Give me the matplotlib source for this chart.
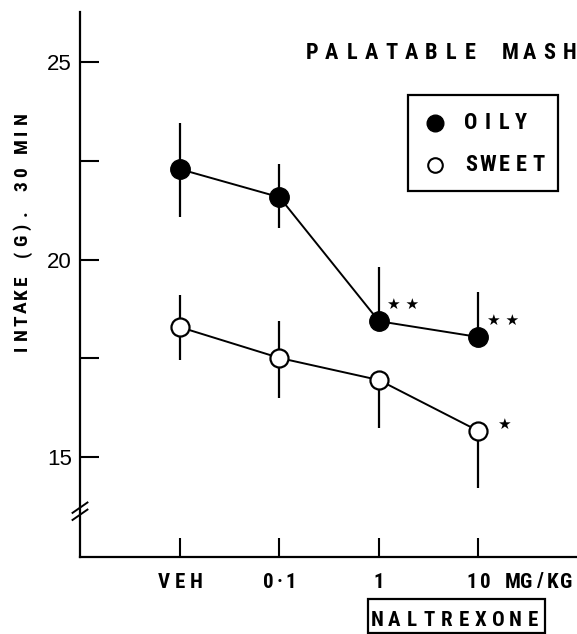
import matplotlib
matplotlib.use("Agg")
import matplotlib.pyplot as plt
from matplotlib import font_manager as fm

# ---------------- data ----------------
doses = ["VEH", "0·1", "1", "10"]
unit_label = "MG/KG"
oily_mean = [22.29, 21.58, 18.44, 18.04]
oily_err_low = [1.20, 0.78, 0.0, 0.0]
oily_err_high = [1.17, 0.84, 1.37, 1.14]
sweet_mean = [18.29, 17.51, 16.95, 15.66]
sweet_err_low = [0.83, 1.02, 1.22, 1.44]
sweet_err_high = [0.81, 0.93, 0.0, 0.0]
oily_sig = ["", "", "★ ★", "★ ★"]
sweet_sig = ["", "", "", "★"]
yticks_major = [15, 20, 25]
yticks_minor = [17.5, 22.5]
series_names = ["OILY", "SWEET"]
title = "PALATABLE MASH"
ylabel = "INTAKE (G). 30 MIN"
drug = "NALTREXONE"

# ---------------- fonts ----------------
names = {f.name for f in fm.fontManager.ttflist}
NARROW = "DejaVu Sans"
for cand in ["Liberation Sans Narrow", "DejaVu Sans Condensed", "Roboto Condensed",
             "Open Sans Condensed"]:
    if cand in names:
        NARROW = cand
        break
REG = "Liberation Sans" if "Liberation Sans" in names else "DejaVu Sans"
BOLD = dict(family=[NARROW, "DejaVu Sans"], weight="bold", stretch="condensed")

W, H = 577, 634
fig = plt.figure(figsize=(W / 100, H / 100), dpi=100)
ax = fig.add_axes([80 / W, 77 / H, 497 / W, 545 / H])
ax.set_xlim(-1.005, 3.99)
ax.set_ylim(12.47, 26.27)


def fx(px):
    return px / W


def fy(py):
    return 1 - py / H


def spaced(text, start, pitch, y, size=14, vertical=False):
    """Draw letter-spaced bold text; start/y in pixels from top-left."""
    for i, ch in enumerate(text):
        if ch == " ":
            continue
        if vertical:
            fig.text(fx(y), fy(start - i * pitch), ch, rotation=90, ha="center",
                     va="center", fontsize=size, **BOLD)
        else:
            fig.text(fx(start + i * pitch), fy(y), ch, ha="center", va="center",
                     fontsize=size, **BOLD)


x = list(range(len(doses)))
ax.errorbar(x, oily_mean, yerr=[oily_err_low, oily_err_high], fmt="-o",
            color="black", mfc="black", mec="black", ms=14, lw=1.4,
            elinewidth=1.6, capsize=0)
ax.errorbar(x, sweet_mean, yerr=[sweet_err_low, sweet_err_high], fmt="-o",
            color="black", mfc="white", mec="black", mew=1.6, ms=13, lw=1.4,
            elinewidth=1.6, capsize=0)

for xi, yi, s in zip(x, oily_mean, oily_sig):
    if s:
        ax.annotate(s, (xi, yi), xytext=(6, 12), textcoords="offset points",
                    ha="left", va="center", fontsize=11, family="DejaVu Sans")
for xi, yi, s in zip(x, sweet_mean, sweet_sig):
    if s:
        ax.annotate(s, (xi, yi), xytext=(13, 5), textcoords="offset points",
                    ha="left", va="center", fontsize=11, family="DejaVu Sans")

# spines / ticks
for sp in ["top", "right"]:
    ax.spines[sp].set_visible(False)
for sp in ["left", "bottom"]:
    ax.spines[sp].set_linewidth(1.6)
ax.set_yticks(yticks_major)
ax.set_yticks(yticks_minor, minor=True)
ax.set_yticklabels([str(v) for v in yticks_major], family=REG, fontsize=16)
ax.tick_params(axis="y", which="both", direction="in", length=14, width=1.5, pad=6)
ax.tick_params(axis="y", which="minor", labelleft=False)
ax.set_xticks(x)
ax.set_xticklabels([""] * len(x))
ax.tick_params(axis="x", direction="in", length=14, width=1.5)

# x tick labels, letter-spaced, centred on tick positions
fig.canvas.draw()
pitches = [16, 11, 14, 14]
for xi, lab, p in zip(x, doses, pitches):
    cx = ax.transData.transform((xi, 0))[0]
    start = cx - p * (len(lab) - 1) / 2
    spaced(lab, start, p, 582, size=15)
cx_last = ax.transData.transform((x[-1], 0))[0]
spaced(unit_label, cx_last + 34, 13.3, 582, size=15)

# axis break
for y0 in (0.068, 0.081):
    ax.plot([-0.015, 0.015], [y0, y0 + 0.019], transform=ax.transAxes,
            color="black", lw=1.4, clip_on=False)

# y label
spaced(ylabel, 348, 13.5, 22, size=14, vertical=True)

# title
spaced(title, 312, 19.8, 53, size=16)

# legend (drawn box)
fig.add_artist(plt.Rectangle((fx(408), fy(191)), (558 - 408) / W, (191 - 95) / H,
                             transform=fig.transFigure, fill=False, lw=1.6, ec="black"))
fig.add_artist(plt.Line2D([fx(435)], [fy(123)], marker="o", ms=12, mfc="black",
                          mec="black", ls="none", transform=fig.transFigure))
fig.add_artist(plt.Line2D([fx(435)], [fy(165)], marker="o", ms=10.5, mfc="white",
                          mec="black", mew=1.5, ls="none", transform=fig.transFigure))
spaced(series_names[0], 471, 16.5, 123, size=16)
spaced(series_names[1], 471, 16.8, 165, size=16)

# NALTREXONE box
spaced(drug, 377, 17.3, 620, size=15)
fig.add_artist(plt.Rectangle((fx(368), fy(633)), (545 - 368) / W, (633 - 599) / H,
                             transform=fig.transFigure, fill=False, lw=1.6, ec="black"))

fig.savefig("out.png", dpi=100)
